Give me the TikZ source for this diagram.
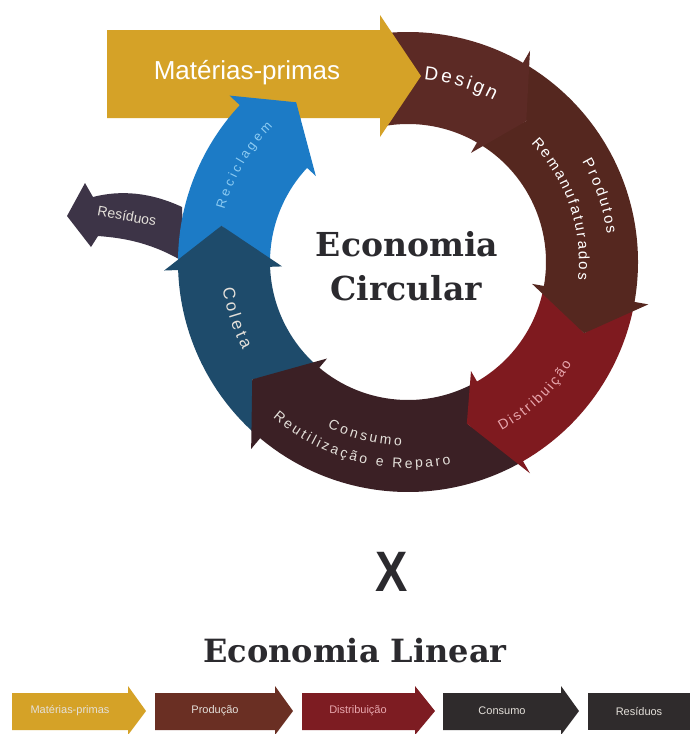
\documentclass[tikz,border=0pt]{standalone}
\usepackage{fontspec}
\setmainfont{Liberation Sans}
\newfontfamily\ringfont{Liberation Sans}
\newfontfamily\titlefont{DejaVu Serif}
\usetikzlibrary{decorations.text}

\definecolor{mpyellow}{HTML}{D5A227}
\definecolor{designbrown}{HTML}{5C2A25}
\definecolor{prodbrown}{HTML}{55271F}
\definecolor{distred}{HTML}{7F1A1F}
\definecolor{consdark}{HTML}{3B2025}
\definecolor{coletablue}{HTML}{1E4B6B}
\definecolor{recicblue}{HTML}{1C7BC6}
\definecolor{residgrey}{HTML}{3D3447}
\definecolor{titlegrey}{HTML}{2B2A2E}
\definecolor{linbrown}{HTML}{6A2F23}
\definecolor{linred}{HTML}{7D1C22}
\definecolor{lindark}{HTML}{2F2B2C}
\definecolor{pinktext}{HTML}{E8A7AE}
\definecolor{lightblue}{HTML}{8CCBF2}
\definecolor{paletext}{HTML}{E4E0DA}

% one arrow band of the cycle: colour, start angle, barb angle,
% tip angle, tip radius, notch angle, notch radius
\newcommand{\ringseg}[7]{%
  \fill[#1] (#2:230pt) arc[start angle=#2, end angle=#3, radius=230pt]
    -- (#3:244pt) -- (#4:#5pt) -- (#3:126pt) -- (#3:138pt)
    arc[start angle=#3, end angle=#2, radius=138pt]
    -- (#6:#7pt) -- cycle;}

% text set along an arc: radius, from angle, to angle, size, colour, text
\newcommand{\arctext}[6]{%
  \path[decorate, decoration={text along path, text align=fit to path,
      text color=#5, text={|\ringfont\fontsize{#4}{#4}\selectfont|#6}}]
    (#2:#1pt) arc[start angle=#2, end angle=#3, radius=#1pt];}

% straight arrow box of the linear chain: colour, left, right, tip
\newcommand{\linarrow}[4]{%
  \fill[#1] (#2,-693) -- (#3,-693) -- (#3,-686) -- (#4,-711)
    -- (#3,-735) -- (#3,-730) -- (#2,-730) -- cycle;}

\tikzset{
  linlabel/.style={font=\ringfont\fontsize{11}{11}\selectfont, text=paletext, inner sep=0pt},
  titletext/.style={font=\titlefont\bfseries\fontsize{33}{33}\selectfont, text=titlegrey, inner sep=0pt, anchor=base},
}

\begin{document}
\begin{tikzpicture}[x=1pt, y=1pt]
\useasboundingbox (0,0) rectangle (694,-734);
\fill[white] (0,0) rectangle (694,-734);

% waste arrow leaving the loop
\fill[residgrey] (182,-207) .. controls (150,-192) and (120,-190) .. (93,-197)
  -- (85,-183) -- (67,-216) -- (91,-247) -- (98,-236)
  .. controls (125,-238) and (152,-243) .. (184,-262) -- cycle;

% the circular chain, drawn back to front
\begin{scope}[shift={(408,-262)}]
  \ringseg{recicblue}{-178}{-223}{-235}{195}{-191}{190}
  \ringseg{coletablue}{-130}{-178}{-191}{190}{-143}{195}
  \ringseg{consdark}{-60}{-130}{-143}{195}{-70}{172}
  \ringseg{distred}{-10}{-60}{-70}{172}{-22}{190}
  \ringseg{prodbrown}{60}{-10}{-22}{190}{50}{184}
  \ringseg{designbrown}{100}{60}{50}{184}{100}{184}
\end{scope}

% raw materials arrow
\fill[mpyellow] (107,-30) -- (380,-30) -- (380,-15) -- (421,-76)
  -- (380,-137) -- (380,-118) -- (107,-118) -- cycle;

% recycling arrow head lies over the raw materials bar
\begin{scope}
  \clip (107,-30) rectangle (380,-118);
  \begin{scope}[shift={(408,-262)}]
    \ringseg{recicblue}{-178}{-223}{-235}{195}{-191}{190}
  \end{scope}
\end{scope}

\node[font=\ringfont\fontsize{26}{26}\selectfont, text=white, inner sep=0pt]
  (mp) at (247,-73) {Matérias-primas};
\node[font=\ringfont\fontsize{14}{14}\selectfont, text=paletext, rotate=-10, inner sep=0pt]
  (res) at (127,-216) {Resíduos};

% labels along the loop
\begin{scope}[shift={(408,-262)}]
  \arctext{183}{85}{62}{19}{white}{Design}
  \arctext{201}{30}{8}{15}{white}{Produtos}
  \arctext{171}{44}{-6}{15}{white}{Remanufaturados}
  \arctext{193}{-61}{-32}{14}{pinktext}{Distribuição}
  \arctext{184}{-116}{-92}{14}{paletext}{Consumo}
  \arctext{206}{-131}{-78}{14}{paletext}{Reutilização e Reparo}
  \arctext{187}{-172}{-152}{17}{paletext}{Coleta}
  \arctext{191}{164}{135}{13}{lightblue}{Reciclagem}
\end{scope}

\node[titletext] (ec1) at (407,-256) {Economia};
\node[titletext] (ec2) at (406,-300) {Circular};

\node[font=\ringfont\bfseries\fontsize{57}{57}\selectfont, text=titlegrey,
  xscale=0.85, inner sep=0pt] (vs) at (392,-572) {X};

\node[titletext, font=\titlefont\bfseries\fontsize{32}{32}\selectfont]
  (el) at (355,-662) {Economia Linear};

% the linear chain
\linarrow{mpyellow}{12}{128}{146}
\linarrow{linbrown}{155}{275}{293}
\linarrow{linred}{302}{415}{435}
\linarrow{lindark}{443}{561}{579}
\fill[lindark] (588,-693) rectangle (690,-730);

\node[linlabel] (l1) at (70,-711) {Matérias-primas};
\node[linlabel] (l2) at (215,-711) {Produção};
\node[linlabel, text=pinktext] (l3) at (358,-711) {Distribuição};
\node[linlabel] (l4) at (502,-711) {Consumo};
\node[linlabel] (l5) at (639,-711) {Resíduos};
\end{tikzpicture}
\end{document}
